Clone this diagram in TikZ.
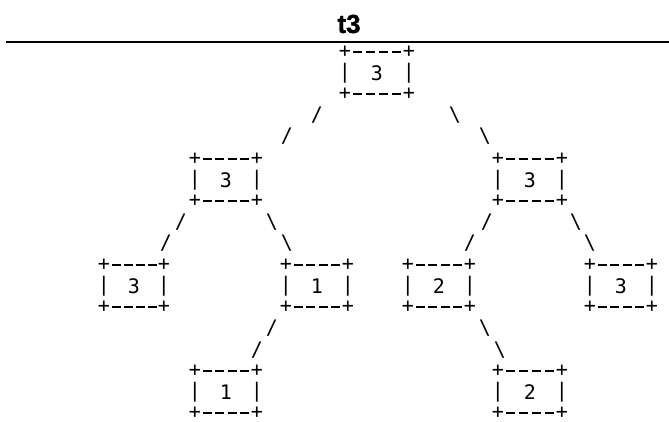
\documentclass[tikz,border=0pt]{standalone}
\usepackage{fontspec}
\setmainfont{Liberation Sans}
\newfontfamily\monofont{DejaVu Sans Mono}
\newfontfamily\titlefont[FakeBold=1.5]{Liberation Sans Bold}
\tikzset{
  ch/.style={inner sep=0pt, outer sep=0pt, font=\monofont\fontsize{20}{20}\selectfont, text=black},
  dashseg/.style={line width=1.2pt, draw=black},
  titletext/.style={font=\titlefont\fontsize{26}{26}\selectfont, inner sep=0pt},
  rule/.style={line width=2pt, draw=black}
}
\newcommand{\asciibox}[5]{% name, x left, x right, y top, digit
  \node[ch] (#1-tl) at (#2,#4) {+};
  \node[ch] (#1-tr) at (#3,#4) {+};
  \node[ch] (#1-bl) at (#2,#4+42) {+};
  \node[ch] (#1-br) at (#3,#4+42) {+};
  \node[ch] (#1-ml) at (#2,#4+21) {|};
  \node[ch] (#1-mr) at (#3,#4+21) {|};
  \node[ch] (#1) at ({(#2+#3)/2},#4+21) {#5};
  \foreach \k in {1,...,4} {
    \draw[dashseg] ({#2+(#3-#2)*\k/5-4.5},#4) -- ++(9,0);
    \draw[dashseg] ({#2+(#3-#2)*\k/5-4.5},#4+42) -- ++(9,0);
  }
}
\begin{document}
\begin{tikzpicture}[x=1pt,y=-1pt]
  \useasboundingbox (0,0) rectangle (669,422);
  \node[titletext] (title) at (349,24) {t3};
  \coordinate (ruleL) at (6,42);
  \coordinate (ruleR) at (669,42);
  \draw[rule] (ruleL) -- (ruleR);

  \asciibox{A}{345}{409}{52}{3}
  \asciibox{B}{195}{257}{159}{3}
  \asciibox{C}{498}{562}{159}{3}
  \asciibox{D}{104}{164}{265}{3}
  \asciibox{E}{286}{348}{265}{1}
  \asciibox{F}{408}{470}{265}{2}
  \asciibox{G}{590}{652}{265}{3}
  \asciibox{H}{195}{257}{371}{1}
  \asciibox{I}{498}{562}{371}{2}

  % A -> B, A -> C
  \node[ch] (ab1) at (317,115) {/};
  \node[ch] (ab2) at (287,136) {/};
  \node[ch] (ac1) at (455,115) {\textbackslash};
  \node[ch] (ac2) at (485,136) {\textbackslash};
  % B -> D, B -> E
  \node[ch] (bd1) at (181,222) {/};
  \node[ch] (bd2) at (166,243) {/};
  \node[ch] (be1) at (272,222) {\textbackslash};
  \node[ch] (be2) at (287,243) {\textbackslash};
  % C -> F, C -> G
  \node[ch] (cf1) at (487,222) {/};
  \node[ch] (cf2) at (470,243) {/};
  \node[ch] (cg1) at (576,222) {\textbackslash};
  \node[ch] (cg2) at (590,243) {\textbackslash};
  % E -> H
  \node[ch] (eh1) at (272,328) {/};
  \node[ch] (eh2) at (257,350) {/};
  % F -> I
  \node[ch] (fi1) at (485,328) {\textbackslash};
  \node[ch] (fi2) at (500,350) {\textbackslash};
\end{tikzpicture}
\end{document}
